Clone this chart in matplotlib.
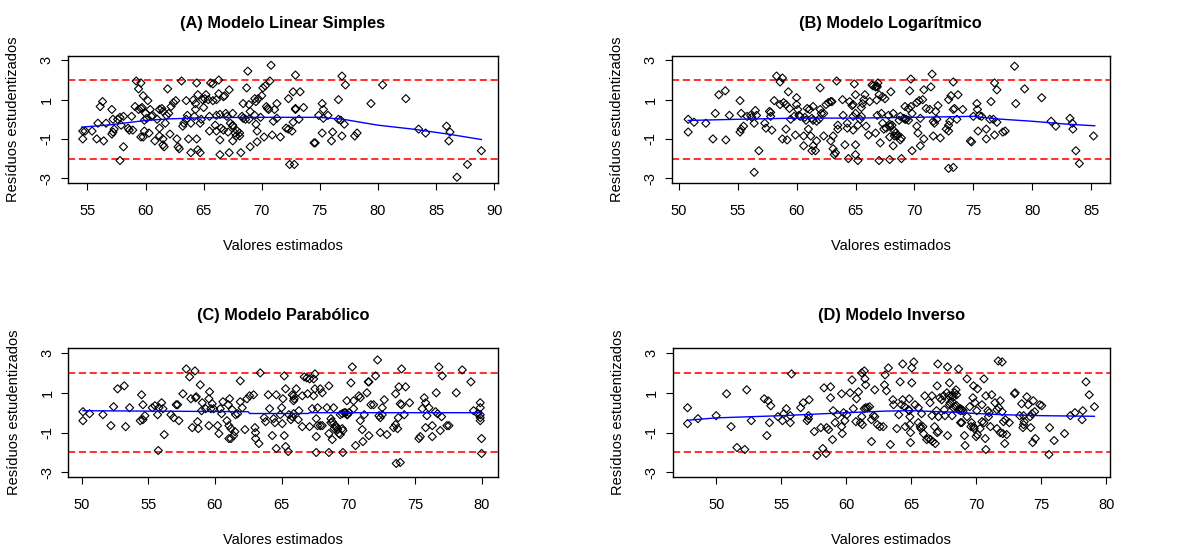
import matplotlib
matplotlib.use("Agg")
import matplotlib.pyplot as plt
import numpy as np

plt.rcParams["font.family"] = ["Liberation Sans", "DejaVu Sans"]
plt.rcParams["axes.unicode_minus"] = False

# (fitted value, studentized residual)
resid_a = [
    (54.6, -0.6), (54.6, -1.0), (54.8, -0.6), (55.4, -0.6), (55.8, -1.0), (55.9, -0.2), (56.1, 0.65),
    (56.3, 0.9), (56.4, -1.1), (56.6, -0.2), (57.1, -0.75), (57.2, -0.65), (57.1, 0.5), (57.3, -0.5),
    (57.2, 0.0), (57.6, 0.0), (57.8, 0.1), (57.9, -0.3), (57.8, -2.1), (58.1, -1.4), (58.1, 0.15),
    (58.5, -0.45), (58.6, -0.55), (58.8, 0.15), (58.9, -0.55), (59.1, 0.65), (59.2, 1.95), (59.4, 1.55),
    (59.6, 1.85), (59.4, 0.5), (59.6, 0.55), (59.7, 0.6), (59.8, 1.2), (59.6, -0.9), (59.9, -0.6),
    (59.8, -0.9), (59.9, -0.05), (60.1, 0.05), (60.0, 0.3), (60.2, 0.95), (60.4, 0.5), (60.5, 0.15),
    (60.6, 0.2), (60.3, -0.7), (60.8, -1.1), (61.0, 0.0), (61.2, 0.5), (61.2, -0.45), (61.2, -0.85),
    (61.4, 0.55), (61.5, 0.4), (61.5, -1.0), (61.5, -1.3), (61.6, -1.4), (61.7, -0.2), (61.8, 0.2),
    (62.0, 0.3), (61.9, 1.55), (62.1, -0.75), (62.2, 0.65), (62.4, 0.85), (62.6, 0.95), (62.7, -1.0),
    (62.8, -1.4), (62.9, -1.5), (63.1, 1.95), (63.2, -0.35), (63.3, -0.2), (63.5, 0.0), (63.5, 0.95),
    (63.6, 0.2), (63.7, -1.0), (63.9, -1.7), (63.9, -0.2), (64.1, 0.98), (64.2, 0.15), (64.3, 0.5),
    (64.3, 0.8), (64.4, 1.85), (64.4, -1.0), (64.5, -1.55), (64.7, -1.7), (64.5, 1.25), (64.7, -0.2),
    (64.8, 0.0), (64.9, 1.0), (65.0, 0.6), (65.1, 1.05), (65.2, 1.25), (65.4, 1.0), (65.5, -0.6),
    (65.5, 0.15), (65.6, 1.85), (65.8, 1.8), (65.8, 0.95), (66.0, -0.3), (66.1, -0.6), (66.1, 1.0),
    (66.3, 1.3), (66.3, 2.0), (66.1, 0.2), (66.4, 0.25), (66.4, -1.05), (66.4, -1.8), (66.5, -0.45),
    (66.7, -0.55), (66.7, 1.15), (66.8, 1.2), (66.9, 0.3), (67.0, 0.15), (67.1, -0.65), (67.2, -1.7),
    (67.2, 1.5), (67.3, -0.2), (67.5, -0.3), (67.5, -0.35), (67.5, -1.1), (67.7, -0.7), (67.8, -0.85),
    (67.5, 0.3), (67.9, -0.6), (68.1, -0.85), (68.1, -0.7), (68.2, -1.7), (68.3, 0.15), (68.4, 0.05),
    (68.6, 0.0), (68.4, 0.8), (68.7, 1.6), (68.8, 2.45), (68.9, 0.75), (69.0, 0.4), (68.9, 0.0),
    (69.0, -1.4), (69.4, 0.2), (69.5, -0.25), (69.6, -0.6), (69.4, 1.05), (69.5, 0.9), (69.7, 1.05),
    (69.6, -1.15), (69.9, 0.1), (70.0, 1.2), (70.1, 1.6), (70.3, 1.7), (70.2, -0.9), (70.4, 0.65),
    (70.5, 0.55), (70.6, 0.5), (70.7, 1.95), (70.8, 2.75), (70.9, -0.8), (71.0, -0.1), (71.1, 0.5),
    (71.3, 0.05), (71.3, 0.8), (71.6, -0.9), (72.1, -0.45), (72.3, -0.5), (72.3, 1.05), (72.4, -2.3),
    (72.8, -2.3), (72.6, -0.6), (72.7, -0.15), (72.7, 1.4), (72.9, 0.55), (72.9, 0.5), (72.9, 2.25),
    (73.2, 0.0), (73.3, 1.4), (73.6, 0.6), (74.5, -1.2), (74.6, -1.2), (74.9, 0.2), (75.2, 0.8),
    (75.2, -0.7), (75.3, 0.5), (75.3, 0.05), (75.7, 0.2), (76.0, -1.1), (76.1, -0.65), (76.6, 1.0),
    (76.6, 0.0), (76.8, -0.05), (77.1, -0.25), (76.9, 2.2), (76.9, -0.85), (77.2, 1.75), (78.0, -0.85),
    (78.2, -0.7), (79.4, 0.8), (80.4, 1.75), (82.4, 1.05), (83.5, -0.5), (84.1, -0.7), (85.9, -0.35),
    (86.2, -0.65), (86.1, -1.1), (86.8, -2.95), (87.7, -2.3), (88.9, -1.6),
]
resid_b = [
    (50.8, 0.0), (50.8, -0.65), (51.3, -0.15), (52.3, -0.2), (52.9, -1.0), (53.1, 0.3), (53.4, 1.25),
    (53.95, 1.45), (54.0, -1.05), (54.3, 0.2), (55.2, -0.65), (55.3, -0.5), (55.5, -0.35), (55.2, 0.95),
    (55.3, 0.3), (55.8, 0.15), (56.1, 0.2), (56.2, 0.1), (56.4, -2.7), (56.4, -0.2), (56.5, 0.45),
    (56.6, 0.2), (56.8, -1.6), (57.3, -0.2), (57.4, -0.45), (57.7, 0.4), (57.8, 0.35), (57.8, 0.15),
    (57.9, -0.55), (58.1, 0.95), (58.3, 2.2), (58.6, 1.9), (58.8, 2.1), (58.6, 0.75), (58.8, -1.0),
    (59.2, -1.05), (58.9, 0.85), (59.1, 0.75), (59.1, -0.5), (59.3, 1.4), (59.4, 0.55), (59.5, 0.0),
    (59.8, 0.15), (59.9, -0.8), (60.0, 1.1), (60.0, 0.75), (60.1, 0.5), (60.2, 0.2), (60.3, 0.15),
    (60.6, -0.85), (60.6, -1.35), (60.7, 0.1), (60.8, -0.05), (60.9, 0.55), (61.1, 0.5), (61.0, -0.5),
    (61.2, -0.85), (61.3, 0.05), (61.4, -0.05), (61.4, 0.65), (61.3, -1.6), (61.6, -1.6), (61.4, -1.35),
    (61.7, -1.1), (61.7, -0.1), (61.9, 0.0), (62.0, 1.6), (62.0, 0.5), (62.1, 0.3), (62.3, 0.3),
    (62.3, -0.85), (62.5, 0.75), (62.7, 0.85), (62.9, 0.9), (63.0, 0.9), (62.9, -1.1), (63.1, -1.5),
    (63.2, -1.8), (63.3, -1.7), (63.1, -0.85), (63.4, 1.95), (63.5, -0.3), (63.5, -0.5), (63.9, 1.0),
    (63.95, 0.2), (64.1, -1.3), (64.3, -0.2), (64.3, -0.45), (64.4, -2.0), (64.5, 0.9), (64.7, 0.7),
    (64.8, 0.75), (64.9, 1.8), (65.0, 1.25), (64.8, -0.55), (65.0, -1.3), (65.0, -1.8), (64.8, 0.15),
    (65.0, 0.3), (65.2, -2.1), (65.2, -0.3), (65.4, 0.0), (65.5, 0.15), (65.5, 0.6), (65.7, 1.0),
    (65.8, 1.25), (65.6, 0.8), (65.9, -0.35), (66.1, -0.8), (66.2, 0.9), (66.4, 1.75), (66.5, 1.7),
    (66.7, 1.65), (66.8, 1.7), (66.85, 1.65), (66.8, 0.98), (66.85, 0.2), (66.9, 1.85), (67.0, 1.25),
    (66.7, -0.7), (67.0, -2.1), (67.2, 0.3), (67.3, -0.2), (67.1, -1.2), (67.3, 1.15), (67.5, 1.05),
    (67.4, -0.5), (67.6, -0.45), (67.8, 0.2), (67.9, -0.25), (67.9, -0.35), (68.1, -0.3), (67.9, -0.9),
    (68.0, 1.4), (67.9, -2.05), (68.2, -1.35), (68.2, 0.3), (68.3, -0.6), (68.3, -0.85), (68.4, -0.7),
    (68.5, -0.85), (68.6, -0.8), (68.7, -0.05), (68.8, 0.15), (68.8, -1.05), (68.9, -0.95), (68.9, -2.0),
    (69.1, 0.05), (69.2, 0.0), (69.3, 0.0), (69.5, -0.05), (69.2, 0.65), (69.5, 0.55), (69.6, 1.45),
    (69.7, 2.05), (69.7, 0.65), (69.8, -1.6), (69.8, 0.3), (70.2, -0.35), (70.3, -0.7), (70.2, 0.85),
    (70.4, 0.95), (70.5, -1.35), (70.5, 0.05), (70.7, 1.0), (70.8, 1.5), (70.8, -1.0), (71.0, 0.55),
    (71.3, 0.5), (71.4, 1.65), (71.5, 2.3), (71.6, -0.1), (71.7, -0.2), (71.9, 0.0), (71.6, -0.85),
    (71.8, 0.4), (72.0, 0.7), (72.2, -0.95), (72.7, -0.5), (72.9, -0.6), (72.9, -0.3), (73.0, -0.1),
    (72.9, 1.0), (73.1, 1.2), (72.9, -2.5), (73.3, -2.45), (73.3, 0.5), (73.4, 0.55), (73.3, 1.9),
    (73.6, 0.0), (73.7, 1.25), (74.1, 0.5), (74.75, -1.1), (74.85, -1.15), (75.0, 0.15), (75.3, 0.8),
    (75.35, 0.5), (75.5, 0.2), (75.4, -0.6), (75.7, 0.15), (76.1, -1.0), (76.1, -0.5), (76.4, 0.0),
    (76.7, 0.0), (76.5, 0.9), (76.8, 1.85), (76.8, -0.8), (77.0, -0.15), (77.0, 1.5), (77.5, -0.65),
    (77.7, -0.6), (78.5, 2.7), (78.6, 0.8), (79.35, 1.55), (80.8, 1.1), (81.6, -0.1), (82.0, -0.35),
    (83.2, 0.05), (83.4, -0.2), (83.45, -0.5), (83.7, -1.6), (84.0, -2.25), (85.2, -0.85),
]
resid_c = [
    (50.1, 0.05), (50.1, -0.4), (50.6, -0.05), (51.6, -0.1), (52.2, -0.65), (52.4, 0.3), (52.7, 1.2),
    (53.2, 1.35), (53.3, -0.7), (53.6, 0.25), (54.4, -0.4), (54.6, -0.35), (54.75, -0.15), (54.5, 0.9),
    (54.6, 0.4), (55.3, 0.25), (55.5, 0.35), (55.7, -0.1), (55.75, -1.9), (55.8, 0.25), (56.0, 0.5),
    (56.1, 0.2), (56.2, -1.1), (56.7, -0.1), (56.9, -0.25), (57.1, 0.4), (57.2, 0.4), (57.3, -0.4),
    (57.6, 0.95), (57.85, 2.2), (58.1, 1.8), (58.2, 0.7), (58.3, -0.75), (58.5, 2.1), (58.55, 0.75),
    (58.6, 0.8), (58.7, -0.45), (58.75, -0.8), (58.9, 1.4), (59.05, 0.5), (59.0, 0.1), (59.3, 0.2),
    (59.55, -0.65), (59.55, 0.7), (59.6, 1.05), (59.7, 0.2), (59.8, 0.45), (59.9, 0.2), (60.2, -0.65),
    (60.3, -1.05), (60.4, 0.2), (60.5, -0.05), (60.6, 0.55), (60.9, -0.4), (61.05, -0.65), (61.2, -0.8),
    (61.0, 0.4), (61.1, 0.7), (61.05, -1.3), (61.2, -1.3), (61.4, -1.15), (61.5, -0.95), (61.3, 0.15),
    (61.55, -0.1), (61.7, -0.05), (61.9, 1.6), (61.9, 0.55), (62.05, 0.25), (62.25, -0.85), (62.4, 0.7),
    (62.6, 0.85), (62.9, 0.9), (63.0, -0.75), (63.05, -1.0), (63.05, -1.3), (63.3, -1.55), (63.4, 2.0),
    (63.7, -0.25), (63.8, -0.45), (64.0, 0.9), (64.1, 0.2), (64.3, -1.15), (64.4, -0.3), (64.5, -0.5),
    (64.6, 0.9), (64.6, -1.8), (64.9, -0.1), (65.0, 0.25), (65.1, 0.7), (65.05, -0.55), (65.2, 1.85),
    (65.2, -1.15), (65.3, -1.7), (65.5, -1.95), (65.3, 1.2), (65.55, -0.1), (65.7, -0.35), (65.8, -0.2),
    (65.9, -0.05), (65.8, 0.9), (65.9, 0.85), (65.9, 0.6), (65.95, 0.7), (66.1, 1.2), (66.25, -0.35),
    (66.3, 0.1), (66.55, 0.85), (66.55, -0.7), (66.7, 1.8), (66.9, 1.75), (67.1, 1.7), (66.95, 0.95),
    (67.1, -0.7), (67.3, 0.2), (67.4, 0.85), (67.5, 1.2), (67.4, 1.7), (67.5, 1.95), (67.6, -0.3),
    (67.7, -0.65), (67.6, -1.2), (67.6, -2.0), (67.7, 0.25), (67.9, 1.2), (68.05, 1.0), (67.9, -0.65),
    (68.05, -0.65), (68.4, 0.25), (68.55, 1.35), (68.55, -1.05), (68.7, -0.3), (68.7, -0.5), (68.8, -0.45),
    (68.55, -2.0), (68.8, -1.35), (68.9, 0.25), (68.95, -0.8), (69.05, -0.65), (69.1, -0.75), (69.2, -0.85),
    (69.3, -1.05), (69.4, -1.1), (69.55, -0.8), (69.6, -0.9), (69.4, -0.1), (69.55, -0.05), (69.7, 0.0),
    (69.8, 0.0), (69.9, -0.1), (69.95, -0.1), (70.05, 0.0), (69.6, -2.0), (69.9, 0.6), (70.2, 1.5),
    (70.3, 2.3), (70.4, 0.6), (70.4, 0.2), (70.55, -1.65), (70.8, 0.85), (70.9, 0.75), (70.9, -0.4),
    (71.05, -0.85), (71.1, -1.45), (71.2, -0.1), (71.4, 1.0), (71.5, 1.55), (71.55, 1.55), (71.55, -1.15),
    (71.7, 0.4), (71.9, 0.4), (72.05, 1.85), (72.2, 2.65), (72.3, -0.15), (72.4, -0.25), (72.55, -0.1),
    (72.4, -1.0), (72.55, 0.25), (72.7, 0.65), (72.9, -1.1), (73.4, -0.75), (73.55, -0.6), (73.7, -0.8),
    (73.75, -0.25), (73.55, 0.95), (73.6, -2.55), (73.9, -2.5), (73.8, 1.3), (73.9, 0.45), (74.0, 0.4),
    (74.0, 2.2), (74.2, -0.1), (74.3, 1.3), (74.6, 0.5), (75.3, -1.3), (75.4, -1.2), (75.55, 0.2),
    (75.7, 0.75), (75.8, 0.5), (75.9, -0.15), (75.8, -0.75), (76.05, 0.25), (76.3, -0.65), (76.3, -1.2),
    (76.55, 0.05), (76.7, -0.05), (76.6, 1.0), (76.8, 2.3), (76.9, -0.9), (77.0, -0.2), (77.05, 1.85),
    (77.4, -0.65), (77.55, -0.65), (78.1, 1.0), (78.55, 2.15), (79.2, 1.55), (79.4, 0.1), (79.7, -0.05),
    (79.9, -0.1), (79.9, -0.25), (79.9, 0.5), (79.9, 0.25), (79.9, -0.4), (80.0, -1.3), (80.0, -2.05),
]
resid_d = [
    (47.8, 0.25), (47.8, -0.55), (48.6, -0.3), (50.0, -0.15), (50.8, 0.95), (51.15, -0.7), (51.6, -1.75),
    (52.2, -1.85), (52.35, 1.15), (52.7, -0.4), (53.7, 0.7), (54.0, 0.6), (54.2, 0.35), (53.9, -1.15),
    (54.1, -0.5), (54.75, -0.2), (55.1, -0.4), (55.2, -0.05), (55.4, 0.2), (55.7, -0.15), (55.7, -0.5),
    (55.8, 1.95), (56.5, 0.25), (56.7, 0.5), (57.0, -0.4), (57.1, -0.3), (57.1, -0.15), (57.15, 0.65),
    (57.55, -0.95), (57.75, -2.15), (58.05, -0.75), (58.2, -1.8), (58.3, 1.25), (58.45, -2.05), (58.5, -0.75),
    (58.65, -0.85), (58.8, 0.75), (58.8, 1.3), (58.95, -1.35), (59.0, 0.1), (59.15, -0.5), (59.35, -0.1),
    (59.65, 0.95), (59.65, -0.7), (59.7, -1.05), (59.8, 0.0), (59.9, -0.4), (60.05, -0.1), (60.3, 1.0),
    (60.45, 1.65), (60.55, 0.2), (60.8, 0.7), (60.75, -0.45), (60.95, 1.05), (61.1, -0.5), (61.2, -0.2),
    (61.25, -0.6), (61.2, 2.0), (61.4, 2.1), (61.45, 1.7), (61.4, 0.2), (61.5, 0.25), (61.65, 0.25),
    (61.5, 1.4), (61.8, 0.3), (61.95, -0.35), (61.95, -1.45), (62.1, -0.15), (62.2, -0.2), (62.2, 1.15),
    (62.4, -0.6), (62.6, -0.7), (62.85, -0.7), (62.95, 1.4), (63.0, 1.9), (63.1, 1.1), (63.25, 2.25),
    (63.4, -1.6), (63.6, 0.65), (63.65, 0.4), (63.9, -0.8), (64.05, -0.1), (64.15, 1.55), (64.25, 0.4),
    (64.35, 0.65), (64.5, 0.3), (64.35, 2.45), (64.55, -0.7), (64.8, 0.15), (64.85, 0.1), (64.85, 0.7),
    (64.9, -0.2), (64.9, -0.6), (64.95, -1.0), (64.95, -1.5), (65.05, 1.5), (65.05, 2.25), (65.2, 2.55),
    (65.3, 0.4), (65.55, -0.5), (65.7, -0.7), (65.75, -0.8), (65.9, -0.7), (65.95, -1.05), (65.55, 0.25),
    (65.8, -0.05), (66.05, 0.85), (66.6, 0.85), (66.45, 0.5), (66.2, -1.35), (66.35, -1.3), (66.5, -1.35),
    (66.65, -1.45), (66.85, -1.55), (66.6, -0.15), (66.8, -0.7), (67.0, -1.0), (67.1, -0.95), (66.95, 0.1),
    (67.0, 1.35), (67.05, 2.45), (67.1, -0.2), (67.2, 0.75), (67.35, 0.65), (67.5, 0.85), (67.55, 0.15),
    (67.6, -0.15), (67.75, 1.0), (67.9, 0.85), (67.8, -1.15), (67.8, 2.3), (67.95, 1.5), (67.95, 0.4),
    (68.0, 0.5), (68.15, 0.55), (68.1, 0.85), (68.25, 0.8), (68.15, -0.15), (68.25, 0.25), (68.4, 0.3),
    (68.5, 0.35), (68.35, 1.0), (68.45, 1.15), (68.5, 0.9), (68.65, 2.2), (68.65, 0.15), (68.8, 0.2),
    (68.8, 0.1), (68.9, 0.15), (69.0, 0.1), (68.8, -0.5), (68.9, -0.5), (69.1, -1.15), (69.15, -1.65),
    (69.3, 1.7), (69.3, -0.2), (69.5, 0.3), (69.6, -0.7), (69.65, -0.5), (69.8, -0.7), (69.85, -0.8),
    (69.75, 0.75), (69.9, 0.5), (69.8, 1.35), (70.0, -1.2), (70.1, -1.1), (70.05, 0.1), (70.1, 1.2),
    (70.3, -0.8), (70.45, -0.45), (70.6, -0.5), (70.45, 0.4), (70.6, 1.7), (70.7, -1.3), (70.75, -1.85),
    (70.75, 0.85), (70.9, 0.1), (71.0, 0.0), (70.95, -0.2), (71.2, 0.9), (71.1, -0.7), (71.45, 0.5),
    (71.6, 0.15), (71.75, 0.25), (71.6, -0.8), (71.7, 2.6), (72.0, 2.55), (71.85, 0.6), (71.85, -1.0),
    (72.05, -1.05), (72.0, 0.05), (72.1, -0.45), (72.25, -0.35), (72.2, -1.55), (72.35, -1.1), (72.55, -0.5),
    (72.95, 0.95), (73.0, 1.0), (73.35, -0.15), (73.5, 0.45), (73.65, -0.6), (73.6, -0.75), (73.7, -0.45),
    (73.65, -0.15), (73.9, 0.8), (74.0, 0.4), (74.15, -0.2), (74.3, -0.05), (74.2, -0.75), (74.35, -1.5),
    (74.55, -1.3), (74.4, 0.6), (74.5, 0.05), (74.9, 0.4), (75.05, 0.35), (75.6, -2.1), (75.65, -0.75),
    (76.0, -1.4), (76.8, -1.05), (77.25, -0.15), (77.6, 0.0), (78.15, -0.35), (78.2, 0.1), (78.45, 1.55),
    (78.7, 0.9), (79.1, 0.3),
]

# lowess smooth (blue line)
smooth_a_x = [54.5, 57.0, 60.0, 62.0, 65.0, 70.0, 75.0, 77.0, 80.0, 83.0, 86.0, 88.9]
smooth_a_y = [-0.4, -0.28, -0.06, 0.02, 0.08, 0.1, 0.1, 0.0, -0.3, -0.5, -0.75, -1.03]
smooth_b_x = [50.8, 55.0, 60.0, 65.0, 70.0, 75.0, 77.0, 80.0, 83.0, 85.3]
smooth_b_y = [-0.06, 0.0, 0.06, 0.06, 0.1, 0.15, 0.02, -0.1, -0.25, -0.33]
smooth_c_x = [50.1, 55.0, 60.0, 62.5, 62.6, 67.0, 67.1, 75.0, 80.0]
smooth_c_y = [0.1, 0.08, 0.06, 0.05, -0.04, -0.04, 0.0, 0.0, 0.0]
smooth_d_x = [47.8, 50.0, 55.0, 60.0, 63.0, 65.0, 68.0, 70.0, 72.0, 75.0, 79.1]
smooth_d_y = [-0.38, -0.26, -0.15, 0.0, 0.08, 0.1, 0.03, -0.04, -0.1, -0.15, -0.18]

titles = ["(A) Modelo Linear Simples", "(B) Modelo Logarítmico",
          "(C) Modelo Parabólico", "(D) Modelo Inverso"]
xticks = [[55, 60, 65, 70, 75, 80, 85, 90], [50, 55, 60, 65, 70, 75, 80, 85],
          [50, 55, 60, 65, 70, 75, 80], [50, 55, 60, 65, 70, 75, 80]]
xlims = [(53.3, 90.3), (49.4, 86.6), (49.0, 81.25), (46.65, 80.3)]
yticks = [-3, -1, 1, 3]

fig = plt.figure(figsize=(11.79, 5.51), dpi=100)
boxes = [[0.0574, 0.668, 0.3647, 0.231], [0.5697, 0.668, 0.3718, 0.231],
         [0.0579, 0.134, 0.3647, 0.234], [0.5705, 0.134, 0.3710, 0.234]]
panels = [(resid_a, smooth_a_x, smooth_a_y), (resid_b, smooth_b_x, smooth_b_y),
          (resid_c, smooth_c_x, smooth_c_y), (resid_d, smooth_d_x, smooth_d_y)]

for i, (pts, sx, sy) in enumerate(panels):
    ax = fig.add_axes(boxes[i])
    x, y = np.array(pts).T
    ax.scatter(x, y, marker="D", s=17, facecolors="none", edgecolors="black", linewidths=0.8, zorder=3)
    ax.plot(sx, sy, color="#0000FF", lw=1.0, zorder=4)
    for h in (-2, 2):
        ax.axhline(h, color="#FF2020", lw=1.3, linestyle=(0, (4, 2)), zorder=2)
    ax.set_xlim(*xlims[i])
    ax.set_ylim(-3.24, 3.24)
    ax.set_xticks(xticks[i])
    ax.set_yticks(yticks)
    ax.tick_params(direction="out", length=5, width=0.8, labelsize=10.5)
    ax.tick_params(axis="x", pad=10)
    ax.tick_params(axis="y", labelrotation=90, pad=5)
    for lab in ax.get_yticklabels():
        lab.set_verticalalignment("center")
    for s in ax.spines.values():
        s.set_linewidth(1.0)
    ax.set_title(titles[i], fontsize=11.8, fontweight="bold", pad=20)
    ax.set_xlabel("Valores estimados", fontsize=10.5, labelpad=15)
    ax.set_ylabel("Resíduos estudentizados", fontsize=10.5, labelpad=14)

fig.savefig("out.png", dpi=100)
